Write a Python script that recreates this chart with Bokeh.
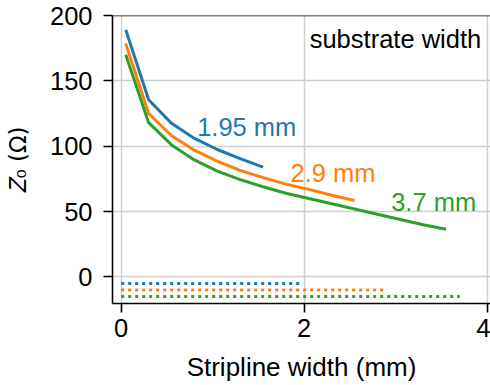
from bokeh.plotting import figure
from bokeh.models import Range1d, FixedTicker, Span
from bokeh.core.properties import value
from bokeh.embed import file_html
from bokeh.resources import INLINE

# ---- data ----
substrate_widths = [1.95, 2.9, 3.7]
labels = ["1.95 mm", "2.9 mm", "3.7 mm"]
colors = ["#1f77b4", "#ff7f0e", "#2ca02c"]

x_blue = [0.05, 0.3, 0.55, 0.8, 1.05, 1.3, 1.55]
z_blue = [189, 135.5, 117.5, 106, 97.5, 90.5, 84]

x_orange = [0.05, 0.3, 0.55, 0.8, 1.05, 1.3, 1.55, 1.8, 2.05, 2.3, 2.55]
z_orange = [178.5, 125, 108, 97, 88.5, 81.5, 76, 71, 67, 62.5, 58.5]

x_green = [0.05, 0.3, 0.55, 0.8, 1.05, 1.3, 1.55, 1.8, 2.05, 2.3, 2.55, 2.8, 3.05, 3.3, 3.55]
z_green = [170, 118, 101, 89.5, 81, 74.5, 69, 64, 60, 56, 52, 48, 44, 40, 36.5]

marker_levels = [-5, -10, -15]

label_x = [0.83, 1.85, 2.95]
label_y = [115, 79.5, 57.7]

x_ticks = [0, 2, 4]
y_ticks = [0, 50, 100, 150, 200]

FONT = "Liberation Sans"

p = figure(width=490, height=385, output_backend="svg", toolbar_location=None,
           x_range=Range1d(-0.095, 4.036), y_range=Range1d(-20.3, 200),
           min_border_left=112, min_border_right=0, min_border_top=15, min_border_bottom=82)
p.outline_line_color = None

for xs, zs, c in zip([x_blue, x_orange, x_green], [z_blue, z_orange, z_green], colors):
    p.line(xs, zs, line_color=c, line_width=3)

for w, lvl, c in zip(substrate_widths, marker_levels, colors):
    p.line([0, w], [lvl, lvl], line_color=c, line_width=3, line_dash="3 4", line_cap="butt")

for lx, ly, t, c in zip(label_x, label_y, labels, colors):
    p.text([lx], [ly], text=[t], text_color=c, text_font=value(FONT),
           text_font_size="25.5px", text_baseline="alphabetic", text_align="left")

p.text([2.06], [182], text=["substrate width"], text_color="black", text_font=value(FONT),
       text_font_size="25.5px", text_baseline="alphabetic", text_align="left")

p.add_layout(Span(location=200, dimension="width", line_color="black", line_width=1.6))

for ax in (p.xaxis[0], p.yaxis[0]):
    ax.axis_line_width = 1.6
    ax.axis_line_color = "black"
    ax.major_tick_line_color = "black"
    ax.major_tick_line_width = 1.6
    ax.major_tick_out = 9
    ax.major_tick_in = 0
    ax.minor_tick_line_color = None
    ax.major_label_text_font = FONT
    ax.major_label_text_font_size = "25.5px"
    ax.major_label_text_color = "black"

p.xaxis.ticker = FixedTicker(ticks=x_ticks)
p.yaxis.ticker = FixedTicker(ticks=y_ticks)
p.xaxis.major_label_standoff = 6
p.yaxis.major_label_standoff = 11

p.xaxis.axis_label = "Stripline width (mm)"
p.xaxis.axis_label_text_font = FONT
p.xaxis.axis_label_text_font_size = "26px"
p.xaxis.axis_label_text_font_style = "normal"
p.xaxis.axis_label_text_color = "black"
p.xaxis.axis_label_standoff = 12

p.yaxis.axis_label = "𝑍₀ (Ω)"
p.yaxis.axis_label_text_font = "DejaVu Sans"
p.yaxis.axis_label_text_font_size = "23px"
p.yaxis.axis_label_text_font_style = "normal"
p.yaxis.axis_label_text_color = "black"
p.yaxis.axis_label_standoff = 16

p.xgrid.ticker = FixedTicker(ticks=x_ticks)
p.ygrid.ticker = FixedTicker(ticks=y_ticks)
p.grid.grid_line_color = "#cfcfcf"
p.grid.grid_line_width = 1.5

open("out.html", "w").write(file_html(p, INLINE))
